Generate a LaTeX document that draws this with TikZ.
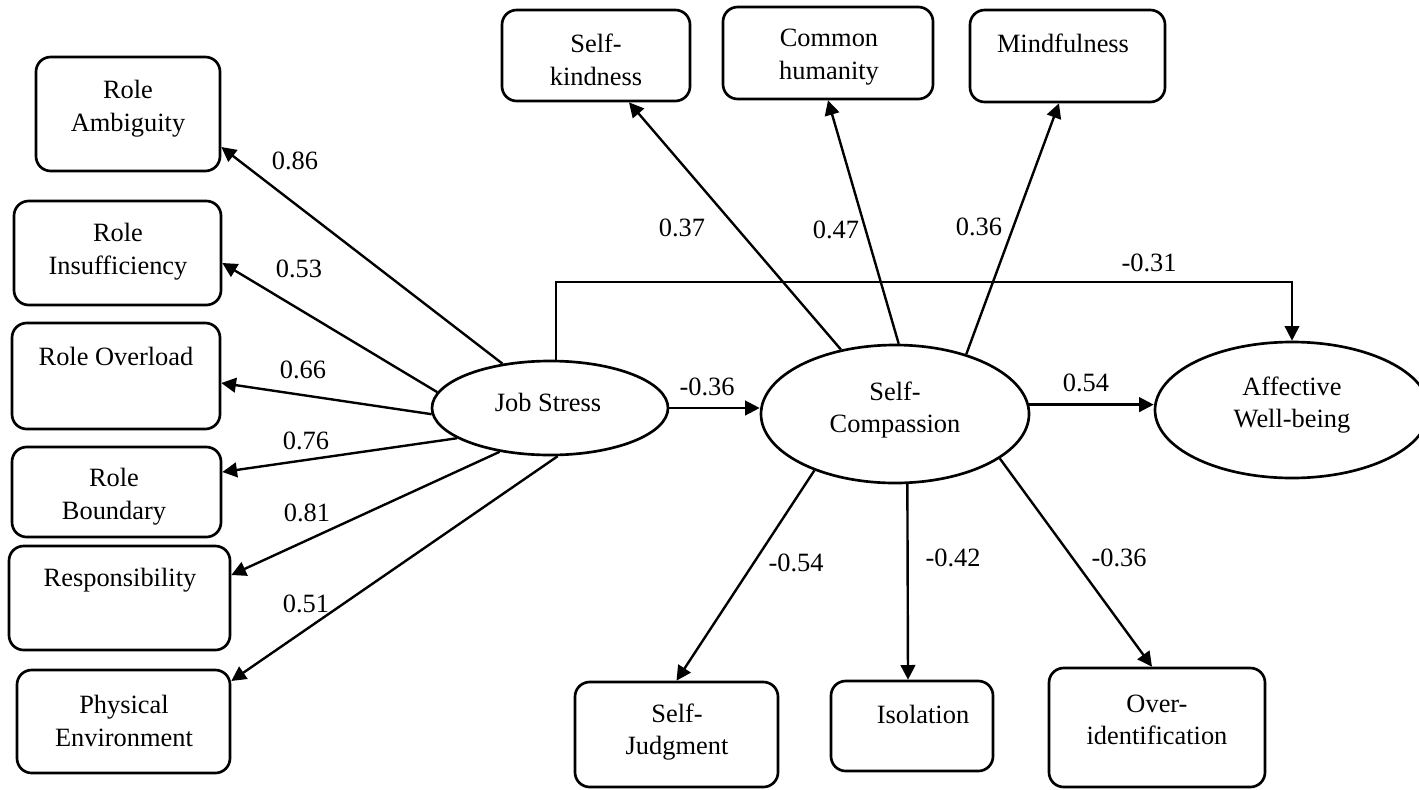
\documentclass[tikz,border=0pt]{standalone}
\usepackage{fontspec}
\setmainfont{Liberation Serif}
\usetikzlibrary{shapes.geometric,arrows.meta,fit}
\begin{document}
\begin{tikzpicture}[x=0.75pt,y=-0.75pt,
  box/.style={draw, line width=2pt, rounded corners=11pt, inner sep=0pt},
  lat/.style={draw, ellipse, line width=2pt, inner sep=0pt},
  txt/.style={font=\fontsize{19.8}{24.5}\selectfont, align=center, inner sep=0pt},
  lbl/.style={font=\fontsize{19.8}{24.5}\selectfont, inner sep=0pt},
  arr/.style={line width=1.8pt, -{Triangle[length=11pt,width=11pt]}},
  arrthin/.style={line width=1.3pt, -{Triangle[length=11pt,width=11pt]}},
]
\useasboundingbox (0,0) rectangle (1419,789);

% boxes
\node[box, fit={(36,57) (220,171)}] (ra) {};
\node[box, fit={(14,201) (221,305)}] (ri) {};
\node[box, fit={(12,323) (220,429)}] (ro) {};
\node[box, fit={(12,447) (221,537)}] (rb) {};
\node[box, fit={(9,546) (230,650)}] (rs) {};
\node[box, fit={(17,670) (230,773)}] (pe) {};
\node[box, fit={(502,10) (690,101)}] (sk) {};
\node[box, fit={(723,7) (933,99)}] (ch) {};
\node[box, fit={(970,10) (1165,102)}] (mf) {};
\node[box, fit={(575,682) (778,787)}] (sj) {};
\node[box, fit={(831,681) (993,771)}] (is) {};
\node[box, fit={(1049,668) (1265,787)}] (oi) {};

% latent variables
\node[lat, minimum width=236*0.75pt, minimum height=94*0.75pt] (js) at (550,408) {};
\node[lat, minimum width=268*0.75pt, minimum height=138*0.75pt] (sc) at (895,414) {};
\node[lat, minimum width=274*0.75pt, minimum height=136*0.75pt] (aw) at (1292,410) {};

% texts
\node[txt] (tra) at (128,109) {Role\\Ambiguity};
\node[txt] (tri) at (118,252) {Role\\Insufficiency};
\node[txt] (tro) at (116,356) {Role Overload};
\node[txt] (trb) at (114,497) {Role\\Boundary};
\node[txt] (trs) at (120,580) {Responsibility};
\node[txt] (tpe) at (124,721) {Physical\\Environment};
\node[txt] (tsk) at (596,60) {Self-\\kindness};
\node[txt] (tch) at (829,57) {Common\\humanity};
\node[txt] (tmf) at (1063,43) {Mindfulness};
\node[txt] (tsj) at (677,732) {Self-\\Judgment};
\node[txt] (tis) at (923,714) {Isolation};
\node[txt] (toi) at (1157,720) {Over-\\identification};
\node[txt] (tjs) at (548,402) {Job Stress};
\node[txt] (tsc) at (895,410) {Self-\\Compassion};
\node[txt] (taw) at (1292,405) {Affective\\Well-being};

% job stress indicators
\draw[arr] (js.137.5) -- ([yshift=-24.75pt]ra.east);
\draw[arr] (js.172.7) -- ([yshift=-7.5pt]ri.east);
\draw[arr] (js.183.9) -- ([yshift=-5.25pt]ro.east);
\draw[arr] (js.198) -- ([yshift=15pt]rb.east);
\draw[arr] (js.221.8) -- ([yshift=17.25pt]rs.east);
\draw[arr] (js.279) -- ([yshift=30.4pt]pe.east);

% self-compassion indicators
\draw[arr] (sc.130.7) -- ([xshift=24.75pt]sk.south);
\draw[arr] (sc.87.5) -- (ch.south);
\draw[arr] (sc.40) -- ([xshift=-6.4pt]mf.south);
\draw[arr] (sc.215.3) -- (sj.north);
\draw[arr] (sc.280.4) -- ([xshift=-3pt]is.north);
\draw[arr] (sc.337.5) -- ([xshift=-3.75pt]oi.north);

% structural paths
\draw[arr] (js.east) -- (js.east -| sc.west);
\draw[arr] (sc.4) -- (sc.4 -| aw.west);
\coordinate (jt) at (556,282);
\draw[arrthin] ([xshift=4.5pt]js.north) -- (jt) -| (aw.north);

% labels
\node[lbl] (l1) at (295,161) {0.86};
\node[lbl] (l2) at (299,269) {0.53};
\node[lbl] (l3) at (303,370) {0.66};
\node[lbl] (l4) at (306,441) {0.76};
\node[lbl] (l5) at (307,513) {0.81};
\node[lbl] (l6) at (306,604) {0.51};
\node[lbl] (l7) at (707,387) {-0.36};
\node[lbl] (l8) at (682,228) {0.37};
\node[lbl] (l9) at (836,230) {0.47};
\node[lbl] (l10) at (979,227) {0.36};
\node[lbl] (l11) at (1149,263) {-0.31};
\node[lbl] (l12) at (1086,383) {0.54};
\node[lbl] (l13) at (796,563) {-0.54};
\node[lbl] (l14) at (953,558) {-0.42};
\node[lbl] (l15) at (1119,558) {-0.36};
\end{tikzpicture}
\end{document}
